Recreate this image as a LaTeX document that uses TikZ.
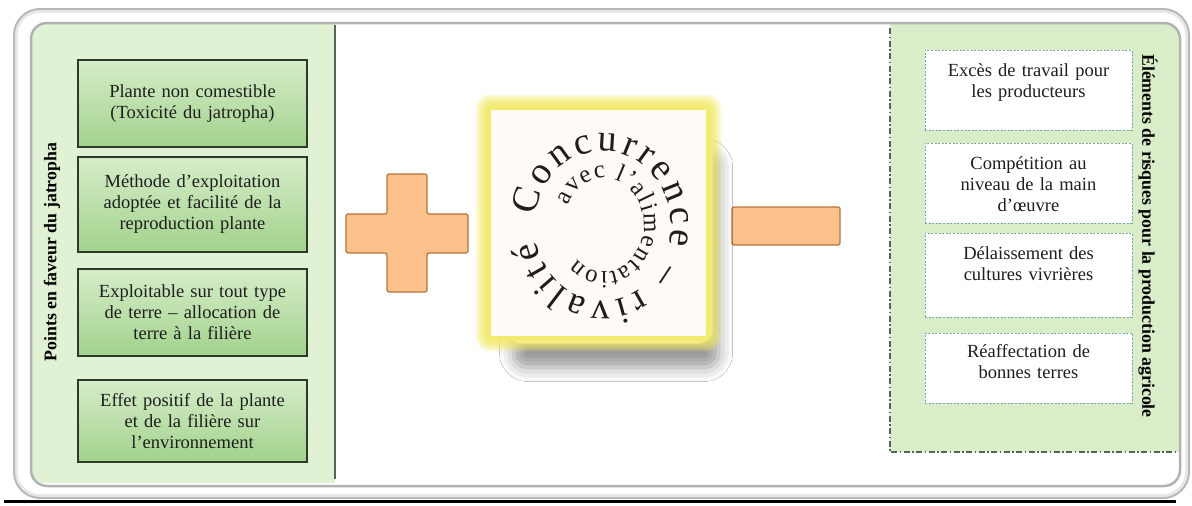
\documentclass[tikz,border=0pt]{standalone}
\usepackage{fontspec}
\setmainfont{Liberation Serif}
\usetikzlibrary{decorations.text,shadows.blur}
\definecolor{panelL}{HTML}{E0F2D3}
\definecolor{panelR}{HTML}{D8EDC8}
\definecolor{gborder}{HTML}{2E3B2C}
\definecolor{gtop}{HTML}{D6EDC9}
\definecolor{gbot}{HTML}{A2D28C}
\definecolor{rdash}{HTML}{7FA6A6}
\definecolor{dashdotc}{HTML}{56655A}
\definecolor{orfill}{HTML}{FBC18A}
\definecolor{ordraw}{HTML}{B8733A}
\definecolor{glowY}{HTML}{F2EA5E}
\definecolor{txt}{HTML}{1E1E1E}
\newcommand\boxfont{\fontsize{18.5}{21}\selectfont}
\newcommand\titlefont{\fontsize{17.8}{20}\selectfont\bfseries}
\newcommand\spiralA{\fontsize{38}{38}\selectfont}
\newcommand\spiralB{\fontsize{25}{25}\selectfont}
\tikzset{
  gbox/.style={draw=gborder, line width=1.4pt, top color=gtop, bottom color=gbot,
    minimum width=229pt, align=center, text width=225pt, font=\boxfont,
    text=txt, inner sep=0pt},
  rbox/.style={draw=rdash, line width=1pt, dash pattern=on 2pt off 1.6pt,
    fill=white, minimum width=207pt, inner sep=0pt},
  rtext/.style={align=center, text width=205pt, font=\boxfont, text=txt, inner sep=0pt},
  vtitle/.style={font=\titlefont, text=black, inner sep=0pt},
  signshape/.style={fill=orfill, draw=ordraw, line width=1.2pt, rounded corners=2pt},
  ddline/.style={draw=dashdotc, line width=1.3pt, dash pattern=on 6pt off 2.5pt on 1.5pt off 2.5pt}
}
\begin{document}
\begin{tikzpicture}[x=1pt,y=-1pt]
\useasboundingbox (0,0) rectangle (1192,506);
% frame
\draw[gray!55, line width=2pt, fill=gray!18, rounded corners=26pt] (14,9) rectangle (1189,498);
\fill[white, rounded corners=22pt] (18,13) rectangle (1185,494);
\begin{scope}
  \clip[rounded corners=16pt] (31,23) rectangle (1180,486);
  \fill[panelL] (0,0) rectangle (335,483);
  \fill[panelR] (890,0) rectangle (1192,452);
\end{scope}
\draw[gray!60, line width=2.5pt, rounded corners=16pt] (31,23) rectangle (1180,486);
\draw[black, line width=2.5pt] (4,501.5) -- (1176,501.5);
% separator and right panel border
\draw[gborder!80, line width=1.6pt] (335,25) -- (335,479);
\draw[ddline] (890,28) -- (890,452) -- (1178,452);
% left panel
\node[vtitle, rotate=90] (lt) at (52,252) {Points en faveur du jatropha};
\node[gbox, minimum height=87pt] (g1) at (192.5,103.5) {Plante non comestible\\(Toxicité du jatropha)};
\node[gbox, minimum height=95pt] (g2) at (192.5,204.5) {Méthode d’exploitation\\adoptée et facilité de la\\reproduction plante};
\node[gbox, minimum height=87pt] (g3) at (192.5,312.5) {Exploitable sur tout type\\de terre – allocation de\\terre à la filière};
\node[gbox, minimum height=82pt] (g4) at (192.5,421) {Effet positif de la plante\\et de la filière sur\\l’environnement};
% right panel
\node[vtitle, rotate=-90] (rt) at (1148,236) {Éléments de risques pour la production agricole};
\node[rbox, minimum height=80pt] (r1) at (1028.5,90) {};
\node[rbox, minimum height=80pt] (r2) at (1028.5,183) {};
\node[rbox, minimum height=84pt] (r3) at (1028.5,275) {};
\node[rbox, minimum height=70pt] (r4) at (1028.5,368) {};
\node[rtext] (r1t) at ([yshift=7.5pt]r1.center) {Excès de travail pour\\les producteurs};
\node[rtext] (r2t) at ([yshift=-1pt]r2.center) {Compétition au\\niveau de la main\\d’œuvre};
\node[rtext] (r3t) at ([yshift=11pt]r3.center) {Délaissement des\\cultures vivrières};
\node[rtext] (r4t) at ([yshift=6pt]r4.center) {Réaffectation de\\bonnes terres};
% plus and minus
\path[signshape] (387,174) -- (427,174) -- (427,214) -- (468,214) -- (468,253) -- (427,253)
  -- (427,292) -- (387,292) -- (387,253) -- (346,253) -- (346,214) -- (387,214) -- cycle;
\path[signshape] (732,207) rectangle (840,245);
% central image with glow and shadow
\node[fill=white, minimum width=205pt, minimum height=215pt, rounded corners=14pt,
  blur shadow={shadow xshift=6pt, shadow yshift=-24pt, shadow blur radius=14pt, shadow opacity=40}]
  (shd) at (610,236) {};
\foreach \k in {0,...,7}{
  \fill[glowY, opacity=0.26, rounded corners={6pt+1.2pt*\k}]
    ({490-2*\k},{109-2*\k}) rectangle ({707+2*\k},{337+2*\k});
}
\node[fill=white!96!orange, minimum width=215pt, minimum height=226pt, inner sep=0pt] (img) at (598.5,223) {};
\begin{scope}[shift={(603,226)}, x=1pt, y=1pt]
\path[decorate, decoration={text along path, text align={fit to path},
   text color=txt, text={|\spiralA|Concurrence – rivalité}}]
   (172:68 and 75) arc[start angle=172, end angle=-168, x radius=68, y radius=75];
\end{scope}
\begin{scope}[shift={(604,225)}, x=1pt, y=1pt]
\path[decorate, decoration={text along path, text align={fit to path},
   text color=txt, text={|\spiralB|avec l’alimentation}}]
   (155:40 and 47) arc[start angle=155, end angle=-133, x radius=40, y radius=47];
\end{scope}
\end{tikzpicture}
\end{document}
